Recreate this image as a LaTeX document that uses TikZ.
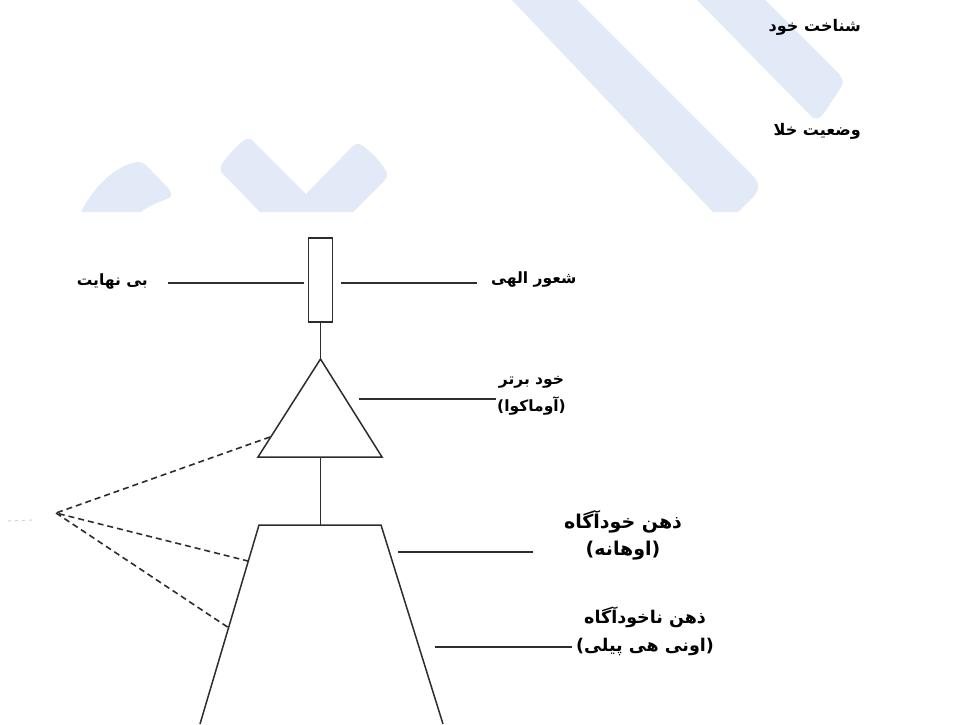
\documentclass[tikz,border=0pt]{standalone}
\usepackage{fontspec}
\newfontfamily\fafont[Script=Arabic]{DejaVu Sans}
\TeXXeTstate=1
\definecolor{wm}{RGB}{225,234,246}
\definecolor{ln}{RGB}{45,45,45}
\newcommand{\fa}[1]{\beginR #1\endR}
\begin{document}
\begin{tikzpicture}[x=1pt,y=-1pt,
  lbl/.style={font=\fafont\bfseries\fontsize{15.5}{27}\selectfont, inner sep=0pt, align=center, text=black},
  biglbl/.style={lbl, font=\fafont\bfseries\fontsize{19}{27}\selectfont},
  midlbl/.style={lbl, font=\fafont\bfseries\fontsize{17.5}{28}\selectfont},
  toplbl/.style={lbl, font=\fafont\bfseries\fontsize{16}{20}\selectfont},
  wire/.style={draw=ln, line width=1.5pt},
  dashline/.style={draw=ln, line width=1.6pt, dash pattern=on 6pt off 4pt}
]
\useasboundingbox (0,0) rectangle (971,724);
\fill[white] (0,0) rectangle (971,724);
% watermark shapes
\fill[wm] (512,0) -- (577,0) -- (752,175) .. controls (760,183) and (760,189) .. (754,196) -- (738,212) -- (713,212) -- cycle;
\fill[wm] (697,0) -- (765,0) -- (838,73) .. controls (844,79) and (844,83) .. (840,89) -- (824,113) .. controls (819,120) and (815,120) .. (810,115) -- cycle;
\fill[wm] (81,212) .. controls (93,188) and (113,168) .. (133,163) .. controls (138,161) and (143,162) .. (147,166) -- (168,188) .. controls (173,194) and (172,197) .. (167,199) .. controls (159,202) and (148,206) .. (141,212) -- cycle;
\fill[wm] (260,212) -- (224,175) .. controls (219,170) and (220,166) .. (224,161) .. controls (230,153) and (236,147) .. (243,141) .. controls (247,138) and (250,138) .. (253,141) -- (306,194) -- (352,147) .. controls (356,143) and (359,143) .. (363,146) .. controls (372,153) and (380,161) .. (386,171) .. controls (388,175) and (387,178) .. (384,181) -- (353,212) -- cycle;
% faint mark
\draw[gray!35, line width=1pt, dash pattern=on 3pt off 4pt] (8,521) -- (34,520);
% top right labels
\node[toplbl, anchor=east] (shenakht) at (861,27) {\fa{شناخت خود}};
\node[toplbl, anchor=east] (vazkhala) at (861,131) {\fa{وضعیت خلا}};
% box
\node[draw=ln, line width=1.5pt, minimum width=24pt, minimum height=84pt, inner sep=0pt] (box) at (320.5,280) {};
\coordinate (bl1) at (168,283); \coordinate (bl2) at (304,283);
\coordinate (br1) at (341,283); \coordinate (br2) at (477,283);
\draw[wire] (bl1) -- (bl2);
\draw[wire] (br1) -- (br2);
\node[lbl, anchor=east] (binahayat) at (148,281) {\fa{بی نهایت}};
\node[lbl, anchor=west] (shoor) at (491,279) {\fa{شعور الهی}};
% triangle
\coordinate (ta) at (320.5,359);
\coordinate (tl) at (258,457);
\coordinate (tr) at (382,457);
\coordinate (tb) at (320.5,457);
\draw[wire] (box.south) -- (ta);
\draw[wire, line join=miter] (ta) -- (tl) -- (tr) -- cycle;
\coordinate (t1) at (359,399); \coordinate (t2) at (496,399);
\draw[wire] (t1) -- (t2);
\node[lbl, anchor=west] (khodbartar) at (497,396) {\fa{خود برتر}\\\fa{(آوماکوا)}};
% trapezoid
\coordinate (zl) at (259,525);
\coordinate (zr) at (381,525);
\coordinate (zt) at (320.5,525);
\coordinate (zbl) at (200,724);
\coordinate (zbr) at (443,724);
\draw[wire] (tb) -- (zt);
\draw[wire, line join=miter] (zbl) -- (zl) -- (zr) -- (zbr);
\coordinate (a1) at (398,552); \coordinate (a2) at (533,552);
\coordinate (b1) at (435,647); \coordinate (b2) at (572,647);
\draw[wire] (a1) -- (a2);
\draw[wire] (b1) -- (b2);
\node[biglbl] (zehn1) at (623,535) {\fa{ذهن خودآگاه}\\\fa{(اوهانه)}};
\node[midlbl, anchor=west] (zehn2) at (576,631) {\fa{ذهن ناخودآگاه}\\\fa{(اونی هی پیلی)}};
% dashed lines
\coordinate (src) at (56,513);
\coordinate (d1) at (270,437);
\coordinate (d2) at (248,561);
\coordinate (d3) at (229,628);
\draw[dashline] (d1) -- (src) -- (d2);
\draw[dashline] (src) -- (d3);
\end{tikzpicture}
\end{document}
